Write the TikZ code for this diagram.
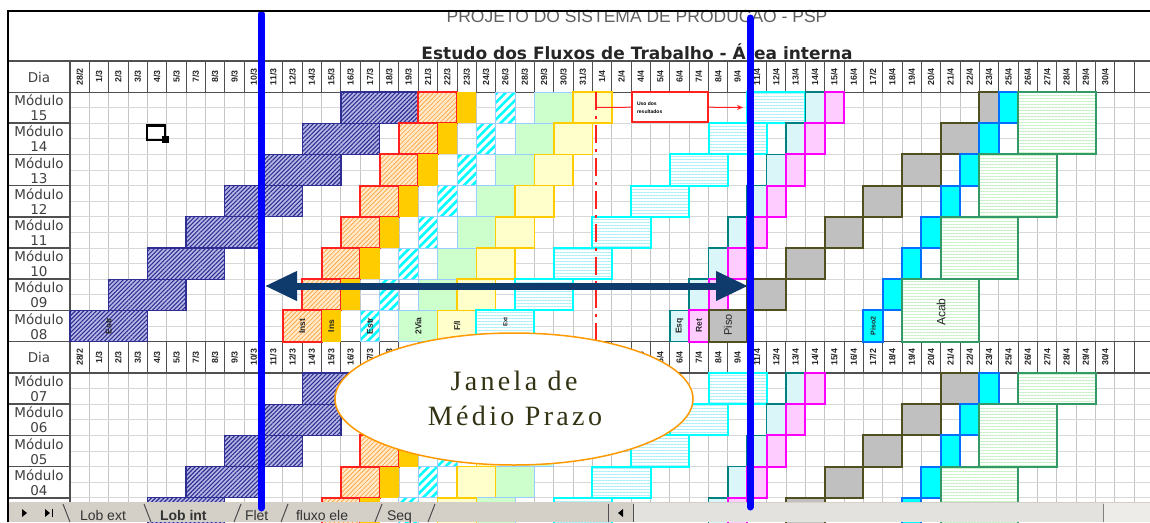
\documentclass[tikz,border=0pt]{standalone}
\usepackage{fontspec}
\setmainfont{Liberation Sans}
\newfontfamily\lblfont{DejaVu Sans}
\newfontfamily\ellfont[LetterSpace=12]{Liberation Serif}
\usetikzlibrary{patterns.meta,arrows.meta,shapes.geometric}
\definecolor{hatchblue}{HTML}{2E2E92}
\definecolor{hatchbg}{HTML}{B8B8E6}
\definecolor{orline}{HTML}{FFA848}
\definecolor{orbg}{HTML}{FFEBCC}
\definecolor{redb}{HTML}{FF2020}
\definecolor{goldc}{HTML}{FFCC00}
\definecolor{cyanc}{HTML}{00FFFF}
\definecolor{ltblue}{HTML}{99CCFF}
\definecolor{ltgreen}{HTML}{CCFFCC}
\definecolor{ltyellow}{HTML}{FFFFCC}
\definecolor{tealc}{HTML}{008080}
\definecolor{tealfill}{HTML}{DAF6F8}
\definecolor{pinkfill}{HTML}{FFCCFF}
\definecolor{magentac}{HTML}{FF00FF}
\definecolor{grayfill}{HTML}{C0C0C0}
\definecolor{oliveb}{HTML}{4F4F22}
\definecolor{cyanborder}{HTML}{0070FF}
\definecolor{seagreen}{HTML}{339966}
\definecolor{hgreen}{HTML}{C4F2C4}
\definecolor{hcyan}{HTML}{A8F0FA}
\definecolor{navyarrow}{HTML}{0E3A6C}
\definecolor{ellorange}{HTML}{FF9900}
\definecolor{elltext}{HTML}{333314}
\definecolor{gridgray}{HTML}{C4C4C4}
\definecolor{gridlight}{HTML}{D8D8D8}
\definecolor{hdrline}{HTML}{505050}
\definecolor{labeltext}{HTML}{404040}
\definecolor{titlegray}{HTML}{606060}
\definecolor{tabgray}{HTML}{D4D0C8}
\definecolor{tracklight}{HTML}{E4E2DE}
\definecolor{vblue}{HTML}{0000FF}
\tikzset{
  gridv/.style={draw=gridgray, line width=0.9pt},
  gridh/.style={draw=gridlight, line width=0.8pt},
  hdrv/.style={draw=hdrline, line width=1pt},
  lblline/.style={draw=hdrline, line width=1.5pt},
  frameline/.style={draw=black, line width=1.8pt},
  bluehatch/.style={fill=hatchbg, postaction={pattern={Lines[angle=45,distance=3pt,line width=1.1pt]}, pattern color=hatchblue}, postaction={draw=hatchblue, line width=1.3pt}},
  orangehatch/.style={fill=orbg, postaction={pattern={Lines[angle=45,distance=3.2pt,line width=0.8pt]}, pattern color=orline}, postaction={draw=redb, line width=2pt}},
  goldbox/.style={fill=goldc},
  cyandiag/.style={fill=white, postaction={pattern={Lines[angle=45,distance=6pt,line width=2.6pt]}, pattern color=cyanc}, postaction={draw=ltblue, line width=1pt}},
  greenbox/.style={fill=ltgreen, draw=ltblue, line width=1pt},
  yellowbox/.style={fill=ltyellow, draw=goldc, line width=1.5pt},
  cyanhbox/.style={fill=white, postaction={pattern={Lines[angle=0,distance=3pt,line width=0.9pt]}, pattern color=hcyan}, postaction={draw=cyanc, line width=2pt}},
  tealbox/.style={fill=tealfill, draw=tealc, line width=1.6pt},
  pinkbox/.style={fill=pinkfill, draw=magentac, line width=2pt},
  graybox/.style={fill=grayfill, draw=oliveb, line width=2pt},
  cyanbox/.style={fill=cyanc, draw=cyanborder, line width=2pt},
  greenhbox/.style={fill=white, postaction={pattern={Lines[angle=0,distance=3pt,line width=1pt]}, pattern color=hgreen}, postaction={draw=seagreen, line width=2pt}},
  datelbl/.style={rotate=90, font=\bfseries\fontsize{8.8}{8.8}\selectfont, text=black!85},
  modlbl/.style={align=center, font=\lblfont\fontsize{13.5}{15}\selectfont, text=labeltext},
  celllbl/.style={rotate=90, font=\bfseries\fontsize{8.5}{8.5}\selectfont, text=black!85},
  tabtext/.style={anchor=base west, font=\fontsize{14}{14}\selectfont, text=black!80},
  bluevline/.style={draw=vblue, line width=7pt, line cap=round},
  reddashdot/.style={draw=redb, line width=2.6pt, dash pattern=on 18pt off 6pt on 3pt off 6pt},
}
\newcommand\cbox[5]{\path[#1] ({70+(#2)*19.35},{#4}) rectangle ({70+(#3+1)*19.35},{#5});}
\newcommand\modrow[3]{%
  \pgfmathsetmacro\yT{#2}%
  \pgfmathsetmacro\yB{#2+31.2}%
  \pgfmathtruncatemacro\cA{14-2*#1}\pgfmathtruncatemacro\cB{17-2*#1}%
  \cbox{bluehatch}{\cA}{\cB}{\yT}{\yB}%
  \pgfmathtruncatemacro\cA{18-#1}\pgfmathtruncatemacro\cB{19-#1}%
  \cbox{orangehatch}{\cA}{\cB}{\yT}{\yB}%
  \pgfmathtruncatemacro\cA{20-#1}%
  \cbox{goldbox}{\cA}{\cA}{\yT}{\yB}%
  \pgfmathtruncatemacro\cA{22-#1}%
  \cbox{cyandiag}{\cA}{\cA}{\yT}{\yB}%
  \pgfmathtruncatemacro\cA{24-#1+2*#3}\pgfmathtruncatemacro\cB{25-#1+2*#3}%
  \cbox{greenbox}{\cA}{\cB}{\yT}{\yB}%
  \pgfmathtruncatemacro\cA{26-#1-2*#3}\pgfmathtruncatemacro\cB{27-#1-2*#3}%
  \cbox{yellowbox}{\cA}{\cB}{\yT}{\yB}%
  \pgfmathtruncatemacro\cA{35-2*#1}\pgfmathtruncatemacro\cB{37-2*#1}%
  \cbox{cyanhbox}{\cA}{\cB}{\yT}{\yB}%
  \pgfmathtruncatemacro\cA{38-#1}%
  \cbox{tealbox}{\cA}{\cA}{\yT}{\yB}%
  \pgfmathtruncatemacro\cA{39-#1}%
  \cbox{pinkbox}{\cA}{\cA}{\yT}{\yB}%
  \pgfmathtruncatemacro\cA{47-2*#1}\pgfmathtruncatemacro\cB{min(48-2*#1,47)}%
  \cbox{graybox}{\cA}{\cB}{\yT}{\yB}%
  \pgfmathtruncatemacro\cA{48-#1}%
  \cbox{cyanbox}{\cA}{\cA}{\yT}{\yB}%
}
\begin{document}
\begin{tikzpicture}[x=1pt,y=-1pt, every node/.style={inner sep=0pt, outer sep=0pt}]
\useasboundingbox (0,0) rectangle (1150,522);
\fill[white] (0,0) rectangle (1150,522);

% data grids
\foreach \c in {0,...,55} {\draw[gridv] ({70+\c*19.35},92) -- ({70+\c*19.35},341.6);}
\foreach \i in {1,...,15} {\draw[gridh] (70,{92+\i*15.6}) -- (1150,{92+\i*15.6});}
\foreach \c in {0,...,55} {\draw[gridv] ({70+\c*19.35},373) -- ({70+\c*19.35},502);}
\foreach \i in {1,...,8} {\draw[gridh] (70,{373+\i*15.6}) -- (1150,{373+\i*15.6});}

% header rows
\foreach \yt in {61,341.6} {
  \fill[white] (8,\yt) rectangle (1150,{\yt+31.4});
  \foreach \c in {0,...,55} {\draw[hdrv] ({70+\c*19.35},\yt) -- ({70+\c*19.35},{\yt+31.4});}
  \draw[lblline] (8,\yt) -- (1150,\yt);
  \draw[lblline] (8,{\yt+31.4}) -- (1150,{\yt+31.4});
}
\foreach \dd/\mm [count=\i from 0] in {28/2,1/3,2/3,3/3,4/3,5/3,7/3,8/3,9/3,10/3,11/3,12/3,14/3,15/3,16/3,17/3,18/3,19/3,21/3,22/3,23/3,24/3,26/3,28/3,29/3,30/3,31/3,1/4,2/4,4/4,5/4,6/4,7/4,8/4,9/4,11/4,12/4,13/4,14/4,15/4,16/4,17/2,18/4,19/4,20/4,21/4,22/4,23/4,25/4,26/4,27/4,28/4,29/4,30/4} {
  \node[datelbl] (dt\i) at ({70+(\i+0.5)*19.35},76.7) {\dd/\mm};
  \node[datelbl] (db\i) at ({70+(\i+0.5)*19.35},357.3) {\dd/\mm};
}

% label column
\node[modlbl] (diatop) at (39,77) {Dia};
\node[modlbl] (diabot) at (39,357.5) {Dia};
\foreach \m [count=\i from 0] in {15,14,13,12,11,10,09,08} {
  \node[modlbl] (lab\m) at (39,{92+\i*31.2+15.8}) {Módulo\\\m};
  \draw[lblline] (8,{92+(\i+1)*31.2}) -- (70,{92+(\i+1)*31.2});
}
\foreach \m [count=\i from 0] in {07,06,05,04} {
  \node[modlbl] (lab\m) at (39,{373+\i*31.2+15.8}) {Módulo\\\m};
  \draw[lblline] (8,{373+(\i+1)*31.2}) -- (70,{373+(\i+1)*31.2});
}
\draw[lblline] (70,61) -- (70,502);

% bars, upper block
\foreach \r in {0,...,7} {\pgfmathsetmacro\yy{92+\r*31.2}\modrow{\r}{\yy}{0}}
\cbox{greenhbox}{49}{52}{92}{154.4}
\cbox{greenhbox}{47}{50}{154.4}{216.8}
\cbox{greenhbox}{45}{48}{216.8}{279.2}
\cbox{greenhbox}{43}{46}{279.2}{341.6}
% bars, lower block
\foreach \r in {1,...,5} {\pgfmathsetmacro\yy{373+(\r-1)*31.2}\modrow{\r}{\yy}{1}}
\cbox{greenhbox}{49}{52}{373}{404.2}
\cbox{greenhbox}{47}{50}{404.2}{466.6}
\cbox{greenhbox}{45}{48}{466.6}{529}

% labels in row 08
\node[celllbl] (lestr) at (108.7,326) {Estr};
\node[celllbl] (linst) at (302.2,326) {Inst};
\node[celllbl] (lins) at (331.2,326) {Ins};
\node[celllbl] (lestrb) at (369.9,326) {Estr};
\node[celllbl] (lvia) at (418.3,326) {2Via};
\node[celllbl] (lfi) at (457,326) {F/I};
\node[celllbl, font=\bfseries\fontsize{6}{6}\selectfont] (lext) at (505.4,322) {Ext};
\node[celllbl] (lesq) at (679.5,326) {Esq};
\node[celllbl] (lret) at (698.9,326) {Ret};
\node[celllbl, font=\fontsize{11}{11}\selectfont] (lpiso) at (727.9,325) {Piso};
\node[celllbl, font=\bfseries\fontsize{7}{7}\selectfont] (lpisob) at (873,326) {Piso2};
\node[celllbl, font=\fontsize{12}{12}\selectfont] (lacab) at (941,312) {Acab};

% cursor icon
\draw[black, line width=2.6pt] (147,125.5) rectangle (165,140);
\fill[black] (162,136) rectangle (169,143);

% red milestone line and note
\coordinate (rdtop) at (596,92);
\coordinate (rdbot) at (596,340);
\coordinate (rdjoin) at (596,107.5);
\coordinate (notearrow) at (743,107.5);
\draw[reddashdot] (rdtop) -- (rdbot);
\node[draw=redb, line width=2pt, fill=white, minimum width=76pt, minimum height=30pt] (note) at (670,107.2) {};
\node[anchor=west, align=left, font=\bfseries\fontsize{5}{8}\selectfont] (notetxt) at (637,107.5) {Uso dos\\resultados};
\draw[redb, line width=1pt] (rdjoin) -- (note.west);
\draw[redb, line width=1pt, -{Stealth[length=6pt,width=5pt]}] (note.east) -- (notearrow);

% titles
\node[anchor=base, font=\fontsize{17.5}{17.5}\selectfont, text=titlegray] (title) at (637,23) {PROJETO DO SISTEMA DE PRODUCAO - PSP};
\node[anchor=base, font=\lblfont\bfseries\fontsize{17}{17}\selectfont, text=black!85] (subtitle) at (637,59.5) {Estudo dos Fluxos de Trabalho - Área interna};

% long double arrow
\coordinate (arrL) at (265,286);
\coordinate (arrR) at (748,286);
\draw[navyarrow, line width=7pt, {Triangle[length=32pt,width=28pt]}-{Triangle[length=32pt,width=28pt]}] (arrL) -- (arrR);

% ellipse
\node[ellipse, draw=ellorange, line width=1.5pt, fill=white, minimum width=358pt, minimum height=132pt] (janela) at (514,399) {};
\node[anchor=base, font=\ellfont\fontsize{28}{28}\selectfont, text=elltext] (jan1) at (514,390) {Janela de};
\node[anchor=base, font=\ellfont\fontsize{28}{28}\selectfont, text=elltext] (jan2) at (515,425) {Médio Prazo};

% sheet tab bar
\fill[tabgray] (8,502) rectangle (1150,522);
\fill[tracklight] (634,503) rectangle (1103,522);
\fill[white!60!tabgray] (1104,503) rectangle (1150,522);
\draw[hdrline, line width=1pt] (608,504) -- (608,522) (633,504) -- (633,522);
\draw[gray, line width=1pt] (1103,504) -- (1103,522);
\fill[black] (22,509) -- (27,513) -- (22,517) -- cycle;
\fill[black] (45,509) -- (50,513) -- (45,517) -- cycle;
\draw[black, line width=1pt] (52,509) -- (52,517);
\fill[black] (623,509) -- (618,513) -- (623,517) -- cycle;
\draw[black!70, line width=1pt] (63,504) -- (70,522) (144,504) -- (151,522) (241,504) -- (234,522) (288,504) -- (281,522) (382,504) -- (375,522) (435,504) -- (428,522);
\node[tabtext] (tab1) at (80,520) {Lob ext};
\node[tabtext, font=\bfseries\fontsize{14}{14}\selectfont] (tab2) at (160,520) {Lob int};
\node[tabtext] (tab3) at (245,520) {Flet};
\node[tabtext] (tab4) at (296,520) {fluxo ele};
\node[tabtext] (tab5) at (387,520) {Seq};

% blue window lines
\coordinate (bl1t) at (261,14);
\coordinate (bl1b) at (261,508);
\coordinate (bl2t) at (750,18);
\coordinate (bl2b) at (750,507);
\draw[bluevline] (bl1t) -- (bl1b);
\draw[bluevline] (bl2t) -- (bl2b);

% frame
\draw[frameline] (8,522) -- (8,11) -- (1150,11);
\end{tikzpicture}
\end{document}
